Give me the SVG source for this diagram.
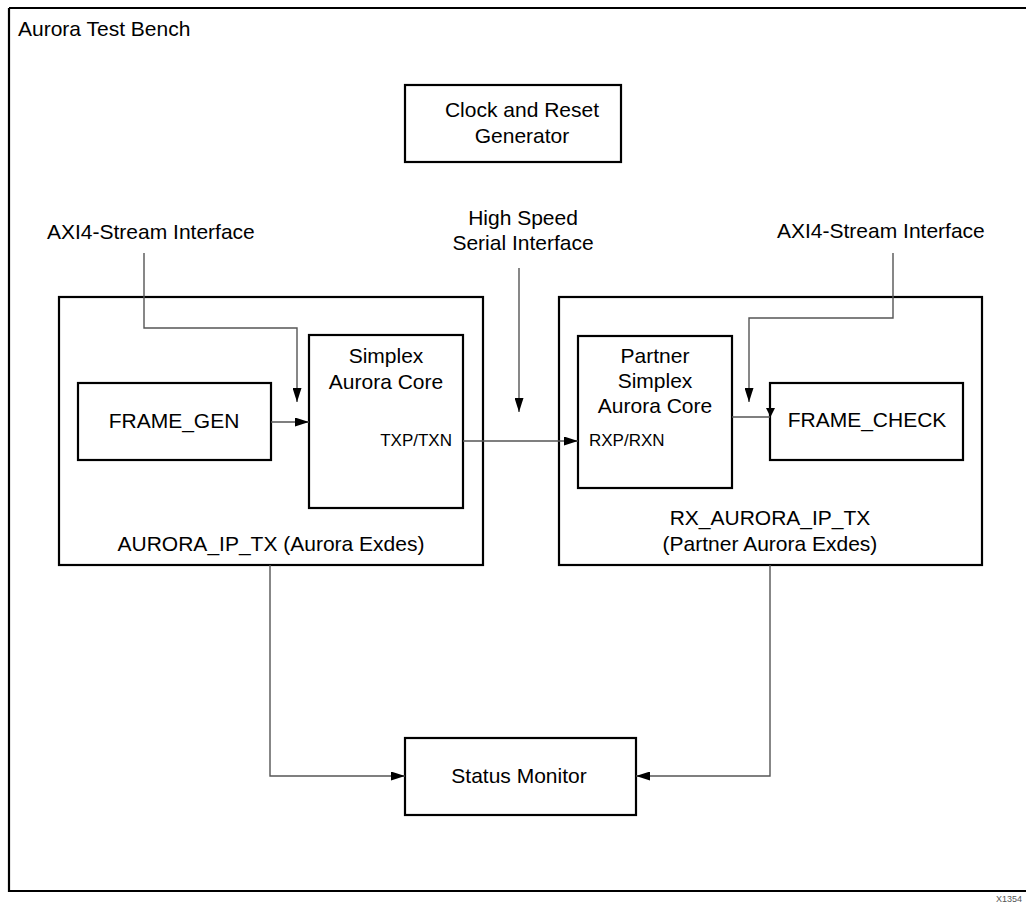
<svg xmlns="http://www.w3.org/2000/svg" width="1026" height="903" viewBox="0 0 1026 903">
<style>
.box{fill:#fff;stroke:#000;stroke-width:2.2}
.t{font-family:"Liberation Sans",Arial,sans-serif;font-size:21px;fill:#000}
.s{font-family:"Liberation Sans",Arial,sans-serif;font-size:17px;fill:#000}
.c{fill:none;stroke:#555;stroke-width:1.4}
</style>
<defs>
<marker id="ah" viewBox="0 0 14 9" markerWidth="14" markerHeight="9" refX="14" refY="4.5" orient="auto" markerUnits="userSpaceOnUse">
<path d="M0,0 L14,4.5 L0,9 z" fill="#000"/>
</marker>
</defs>
<rect width="1026" height="903" fill="#fff"/>
<g id="frame">
<path d="M9,8 H1030 M9,8 V891 H1030" fill="none" stroke="#000" stroke-width="2.2"/>
<text class="t" x="18" y="36">Aurora Test Bench</text>
<text x="996" y="902" font-family="Liberation Sans,Arial,sans-serif" font-size="9" fill="#555">X1354</text>
</g>
<g id="clock">
<rect class="box" x="405" y="85" width="216" height="77"/>
<text class="t" x="522" y="117" text-anchor="middle">Clock and Reset</text>
<text class="t" x="522" y="143" text-anchor="middle">Generator</text>
</g>
<g id="axi-left"><text class="t" x="47" y="239">AXI4-Stream Interface</text></g>
<g id="hssi">
<text class="t" x="523" y="225" text-anchor="middle">High Speed</text>
<text class="t" x="523" y="250" text-anchor="middle">Serial Interface</text>
</g>
<g id="axi-right"><text class="t" x="777" y="238">AXI4-Stream Interface</text></g>
<g id="aurora-ip-tx">
<rect class="box" x="59" y="297" width="424" height="268"/>
<text class="t" x="271" y="551" text-anchor="middle">AURORA_IP_TX (Aurora Exdes)</text>
</g>
<g id="frame-gen">
<rect class="box" x="78" y="383" width="193" height="77"/>
<text class="t" x="174" y="428" text-anchor="middle">FRAME_GEN</text>
</g>
<g id="simplex-core">
<rect class="box" x="309" y="335" width="154" height="173"/>
<text class="t" x="386" y="363" text-anchor="middle">Simplex</text>
<text class="t" x="386" y="389" text-anchor="middle">Aurora Core</text>
<text class="s" x="452" y="446" text-anchor="end">TXP/TXN</text>
</g>
<g id="rx-aurora-ip-tx">
<rect class="box" x="559" y="297" width="423" height="268"/>
<text class="t" x="770" y="525" text-anchor="middle">RX_AURORA_IP_TX</text>
<text class="t" x="770" y="551" text-anchor="middle">(Partner Aurora Exdes)</text>
</g>
<g id="partner-core">
<rect class="box" x="578" y="336" width="154" height="152"/>
<text class="t" x="655" y="363" text-anchor="middle">Partner</text>
<text class="t" x="655" y="388" text-anchor="middle">Simplex</text>
<text class="t" x="655" y="413" text-anchor="middle">Aurora Core</text>
<text class="s" x="589" y="446">RXP/RXN</text>
</g>
<g id="frame-check">
<rect class="box" x="770" y="383" width="193" height="77"/>
<text class="t" x="867" y="427" text-anchor="middle">FRAME_CHECK</text>
</g>
<g id="status-monitor">
<rect class="box" x="405" y="738" width="231" height="77"/>
<text class="t" x="519" y="783" text-anchor="middle">Status Monitor</text>
</g>
<g id="connectors">
<path class="c" d="M144,253 V328 H297 V402" marker-end="url(#ah)"/>
<path class="c" d="M271,422 H309" marker-end="url(#ah)"/>
<path class="c" d="M463,441 H578" marker-end="url(#ah)"/>
<path class="c" d="M519,268 V412" stroke="#333" marker-end="url(#ah)"/>
<path class="c" d="M893,253 V318 H749 V402" marker-end="url(#ah)"/>
<path class="c" d="M732,417 H770"/>
<path d="M766,408 L775,408 L770.5,417 z" fill="#000"/>
<path class="c" d="M270,565 V776 H405" marker-end="url(#ah)"/>
<path class="c" d="M770,565 V776 H636" marker-end="url(#ah)"/>
</g>
</svg>
